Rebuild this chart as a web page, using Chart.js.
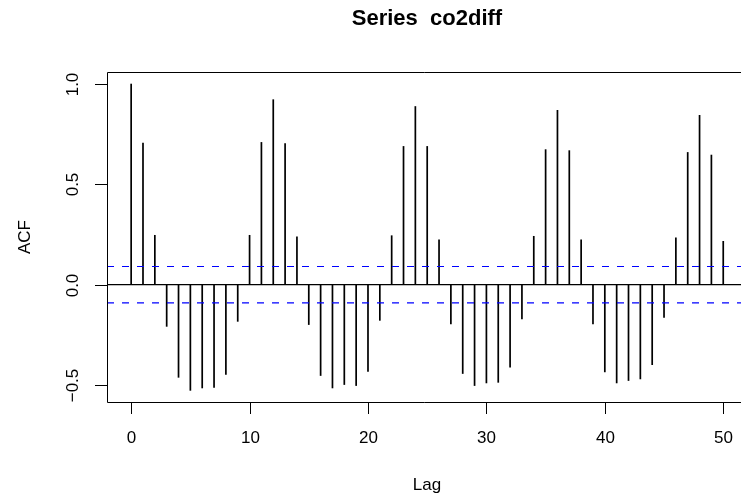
<!DOCTYPE html>
<html>
<head>
<meta charset="utf-8">
<script src="https://cdn.jsdelivr.net/npm/chart.js@4/dist/chart.umd.min.js"></script>
<style>
  html, body { margin: 0; padding: 0; background: #fff; }
  #wrap { width: 741px; height: 500px; }
</style>
</head>
<body>
<div id="wrap"><canvas id="acf"></canvas></div>
<script>
// ACF values for lags 0..50
const lags = [0,1,2,3,4,5,6,7,8,9,10,11,12,13,14,15,16,17,18,19,20,
              21,22,23,24,25,26,27,28,29,30,31,32,33,34,35,36,37,38,39,40,
              41,42,43,44,45,46,47,48,49,50];
const acfValues = [1.000, 0.706, 0.246, -0.208, -0.462, -0.527, -0.515, -0.512, -0.448, -0.183,
                   0.246, 0.709, 0.922, 0.703, 0.238, -0.199, -0.453, -0.515, -0.498, -0.503,
                   -0.432, -0.178, 0.244, 0.689, 0.888, 0.689, 0.224, -0.196, -0.443, -0.503,
                   -0.490, -0.487, -0.412, -0.171, 0.241, 0.673, 0.869, 0.668, 0.224, -0.196,
                   -0.435, -0.490, -0.478, -0.470, -0.399, -0.163, 0.233, 0.659, 0.844, 0.646,
                   0.216];
const ciBound = 0.0905;
const xTicks = [0, 10, 20, 30, 40, 50];
const yTicks = [-0.5, 0.0, 0.5, 1.0];
const yTickLabels = ['\u22120.5', '0.0', '0.5', '1.0'];
const xLim = [-2.04, 51.5];
const yLim = [-0.585, 1.06];

const FONT = "'Liberation Sans', Arial, Helvetica, sans-serif";

// R-style frame, axes and labels
const rAxes = {
    id: 'rAxes',
    afterDraw(chart) {
        const ctx = chart.ctx;
        const a = chart.chartArea;
        const xs = chart.scales.x, ys = chart.scales.y;
        ctx.save();
        ctx.strokeStyle = '#000';
        ctx.lineWidth = 1;
        ctx.fillStyle = '#000';

        // box (right edge falls outside the canvas)
        ctx.beginPath();
        ctx.moveTo(a.right + 10, a.top + 0.5);
        ctx.lineTo(a.left + 0.5, a.top + 0.5);
        ctx.lineTo(a.left + 0.5, a.bottom + 0.5);
        ctx.lineTo(a.right + 10, a.bottom + 0.5);
        ctx.stroke();

        // x axis ticks
        ctx.font = '17px ' + FONT;
        ctx.textAlign = 'center';
        ctx.textBaseline = 'middle';
        xTicks.forEach(t => {
            const px = Math.round(xs.getPixelForValue(t)) + 0.5;
            ctx.beginPath();
            ctx.moveTo(px, a.bottom);
            ctx.lineTo(px, a.bottom + 12);
            ctx.stroke();
            ctx.fillText(String(t), px, a.bottom + 36);
        });

        // y axis ticks
        yTicks.forEach((t, i) => {
            const py = Math.round(ys.getPixelForValue(t)) + 0.5;
            ctx.beginPath();
            ctx.moveTo(a.left, py);
            ctx.lineTo(a.left - 12, py);
            ctx.stroke();
            ctx.save();
            ctx.translate(a.left - 34, py);
            ctx.rotate(-Math.PI / 2);
            ctx.fillText(yTickLabels[i], 0, 0);
            ctx.restore();
        });

        // axis titles
        const cx = (a.left + xs.getPixelForValue(52)) / 2;
        ctx.fillText('Lag', cx, 485);
        ctx.save();
        ctx.translate(25, (a.top + a.bottom) / 2);
        ctx.rotate(-Math.PI / 2);
        ctx.fillText('ACF', 0, 0);
        ctx.restore();

        // main title
        ctx.font = 'bold 22px ' + FONT;
        ctx.fillText('Series  co2diff', cx, 19);
        ctx.restore();
    }
};

const ctx = document.getElementById('acf').getContext('2d');
new Chart(ctx, {
    type: 'bar',
    data: {
        datasets: [
            {
                type: 'line',
                data: [{ x: xLim[0], y: ciBound }, { x: xLim[1], y: ciBound }],
                borderColor: '#0000ff',
                borderWidth: 1.2,
                borderDash: [7, 8],
                pointRadius: 0,
                order: 1
            },
            {
                type: 'line',
                data: [{ x: xLim[0], y: -ciBound }, { x: xLim[1], y: -ciBound }],
                borderColor: '#0000ff',
                borderWidth: 1.2,
                borderDash: [7, 8],
                pointRadius: 0,
                order: 1
            },
            {
                type: 'line',
                data: [{ x: xLim[0], y: 0 }, { x: xLim[1], y: 0 }],
                borderColor: '#000',
                borderWidth: 1.2,
                pointRadius: 0,
                order: 2
            },
            {
                type: 'bar',
                data: lags.map((l, i) => ({ x: l, y: acfValues[i] })),
                backgroundColor: '#000',
                borderWidth: 0,
                barThickness: 1.05,
                order: 3
            }
        ]
    },
    options: {
        responsive: true,
        maintainAspectRatio: false,
        animation: false,
        layout: { padding: { left: 107, top: 72, right: 0, bottom: 98 } },
        plugins: { legend: { display: false }, tooltip: { enabled: false } },
        scales: {
            x: { type: 'linear', min: xLim[0], max: xLim[1], display: false, offset: false },
            y: { type: 'linear', min: yLim[0], max: yLim[1], display: false }
        }
    },
    plugins: [rAxes]
});
</script>
</body>
</html>
